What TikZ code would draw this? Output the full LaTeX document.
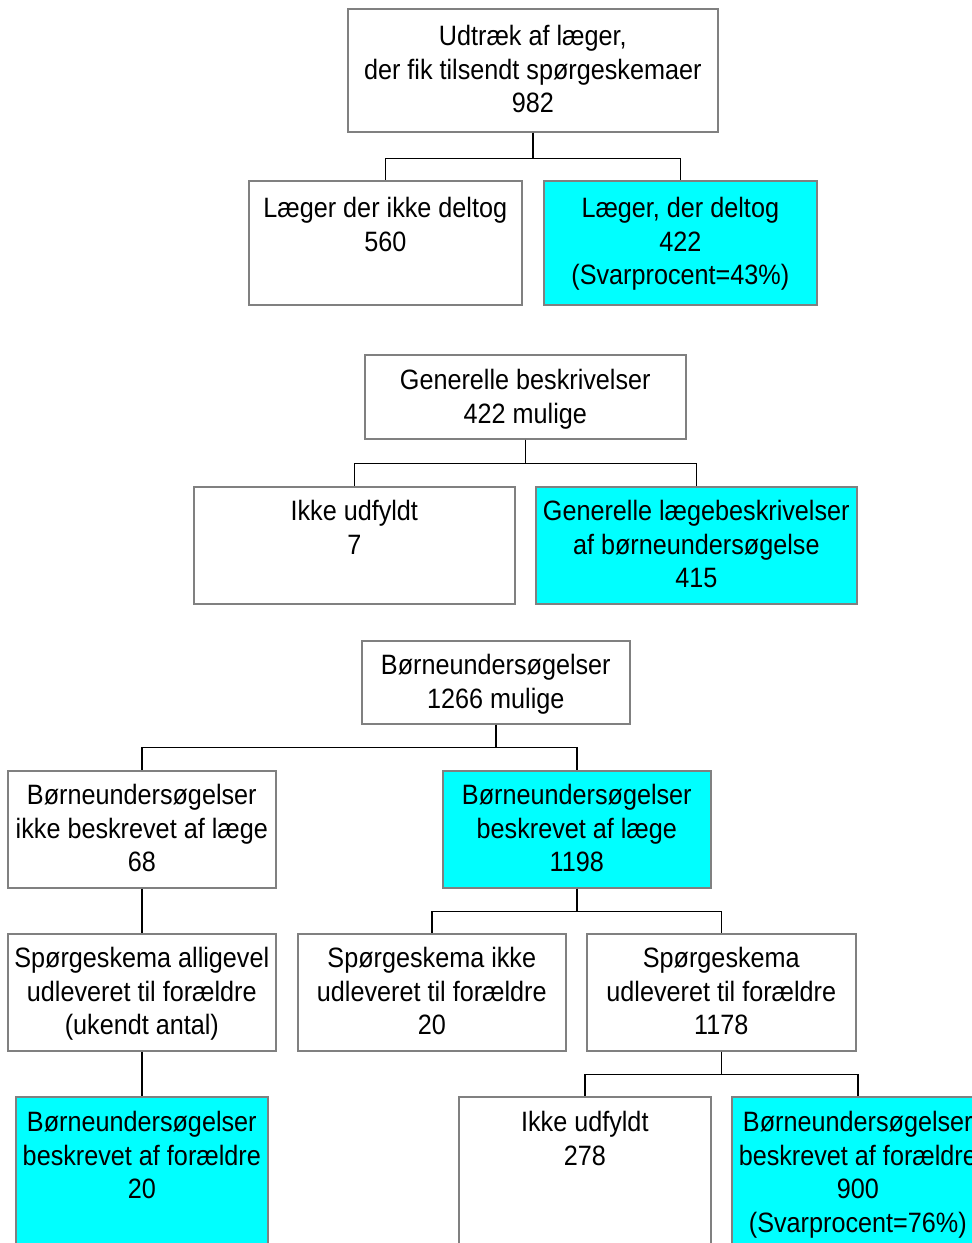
\documentclass[tikz,border=0pt]{standalone}
\usepackage{fontspec}
\setmainfont{Liberation Sans}[FakeStretch=0.90]
\usepackage{tikz}
\usetikzlibrary{positioning}
\definecolor{BoxCyan}{RGB}{0,255,255}
\definecolor{EdgeGray}{RGB}{128,128,128}

% box text: width, height, lines (first baseline set by the optional strut)
\newcommand{\boxtxt}[4][34pt]{\parbox[c][#3][t]{#2}{\centering\rule{0pt}{#1}#4}}

\tikzset{
  boks/.style={draw=EdgeGray,line width=1.6pt,fill=white,inner sep=0pt,
    anchor=north west,font=\fontsize{28pt}{33.5pt}\selectfont},
  cyanboks/.style={boks,fill=BoxCyan},
  link/.style={line width=1.6pt,black}
}

\begin{document}
\begin{tikzpicture}[x=1pt,y=-1pt]
  \useasboundingbox (0,0) rectangle (972,1243);
  \clip (0,0) rectangle (972,1243);

  % laeger
  \node[boks] (top) at (347,8) {\boxtxt[37pt]{370pt}{123pt}{Udtræk af læger,\\der fik tilsendt spørgeskemaer\\982}};
  \node[boks] (ikke) at (248,180) {\boxtxt[37pt]{273pt}{124pt}{Læger der ikke deltog\\560}};
  \node[cyanboks] (deltog) at (543,180) {\boxtxt[37pt]{273pt}{124pt}{Læger, der deltog\\422\\(Svarprocent=43\%)}};

  % generelle beskrivelser
  \node[boks] (gen) at (364,354) {\boxtxt[35pt]{321pt}{84pt}{Generelle beskrivelser\\422 mulige}};
  \node[boks] (gikke) at (193,486) {\boxtxt{321pt}{117pt}{Ikke udfyldt\\7}};
  \node[cyanboks] (glaege) at (535,486) {\boxtxt{321pt}{117pt}{Generelle lægebeskrivelser\\af børneundersøgelse\\415}};

  % boerneundersoegelser
  \node[boks] (born) at (361,640) {\boxtxt{268pt}{83pt}{Børneundersøgelser\\1266 mulige}};
  \node[boks] (bikke) at (7,770) {\boxtxt{268pt}{117pt}{Børneundersøgelser\\ikke beskrevet af læge\\68}};
  \node[cyanboks] (blaege) at (442,770) {\boxtxt{268pt}{117pt}{Børneundersøgelser\\beskrevet af læge\\1198}};
  \node[boks] (alligevel) at (7,933) {\boxtxt{268pt}{117pt}{Spørgeskema alligevel\\udleveret til forældre\\(ukendt antal)}};
  \node[boks] (sikke) at (297,933) {\boxtxt{268pt}{117pt}{Spørgeskema ikke\\udleveret til forældre\\20}};
  \node[boks] (sudl) at (586,933) {\boxtxt{269pt}{117pt}{Spørgeskema\\udleveret til forældre\\1178}};
  \node[cyanboks] (bforaeldre) at (15,1096) {\boxtxt[35pt]{252pt}{200pt}{Børneundersøgelser\\beskrevet af forældre\\20}};
  \node[boks] (iudfyldt) at (458,1096) {\boxtxt[35pt]{252pt}{200pt}{Ikke udfyldt\\278}};
  \node[cyanboks] (bnine) at (731,1096) {\boxtxt[35pt]{252pt}{200pt}{Børneundersøgelser\\beskrevet af forældre\\900\\(Svarprocent=76\%)}};

  \foreach \p/\c/\d in {top/ikke/26,top/deltog/26,gen/gikke/24,gen/glaege/24,
      born/bikke/23,born/blaege/23,bikke/alligevel/23,blaege/sikke/23,blaege/sudl/23,
      alligevel/bforaeldre/23,sudl/iudfyldt/23,sudl/bnine/23}
    \draw[link] (\p.south) -- ++(0,\d) -| (\c.north);
\end{tikzpicture}
\end{document}
